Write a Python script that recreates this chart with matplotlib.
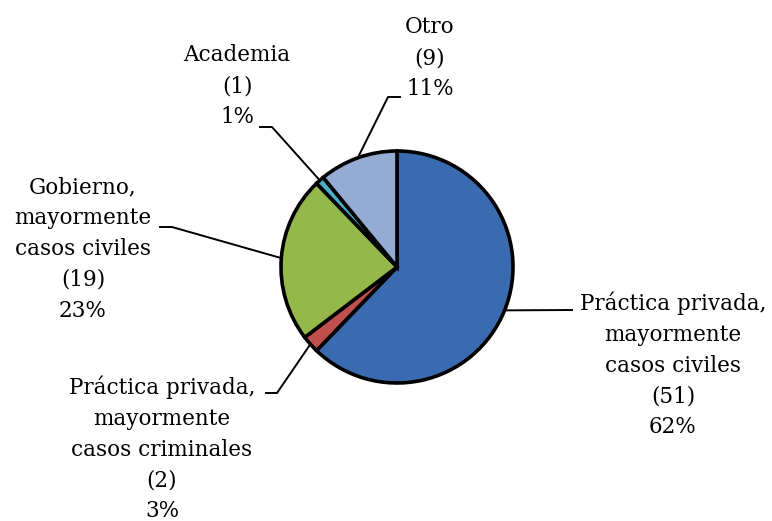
import matplotlib.pyplot as plt
import numpy as np

# data
categories = ["Práctica privada,\nmayormente\ncasos civiles",
              "Práctica privada,\nmayormente\ncasos criminales",
              "Gobierno,\nmayormente\ncasos civiles",
              "Academia",
              "Otro"]
counts = [51, 2, 19, 1, 9]
percents = [62, 3, 23, 1, 11]
colors = ["#3A6BB0", "#C0504D", "#94B94A", "#4BACC6", "#94ACD4"]

W, H = 772, 521
cx, cy, r = 397, 267, 116

# label layout, pixel coords with origin top-left
text_pos = [(673, 365), (162, 449), (83, 249), (237, 86), (430, 58)]
elbows = [[(572, 310)],
          [(266, 393), (277, 393)],
          [(160, 227), (172, 227)],
          [(260, 127), (272, 127)],
          [(400, 97), (388, 97)]]

plt.rcParams['font.family'] = ['DejaVu Serif']

fig = plt.figure(figsize=(W / 100, H / 100), dpi=100)
ax = fig.add_axes([0, 0, 1, 1])
ax.set_xlim(0, W)
ax.set_ylim(0, H)
ax.set_aspect('equal')
ax.axis('off')

wedges, _ = ax.pie(counts, colors=colors, startangle=90, counterclock=False,
                   center=(cx, H - cy), radius=r,
                   wedgeprops=dict(edgecolor='black', linewidth=2.6))
ax.set_xlim(0, W)
ax.set_ylim(0, H)

for i, w in enumerate(wedges):
    ang = np.deg2rad((w.theta1 + w.theta2) / 2)
    ax_pt = (cx + r * np.cos(ang), H - cy + r * np.sin(ang))
    pts = [(x, H - y) for x, y in elbows[i]] + [ax_pt]
    ax.plot([p[0] for p in pts], [p[1] for p in pts], color='black', lw=1.4)
    tx, ty = text_pos[i]
    label = f"{categories[i]}\n({counts[i]})\n{percents[i]}%"
    ax.text(tx, H - ty, label, ha='center', va='center', multialignment='center',
            fontsize=15.5, linespacing=1.52, color='black')

fig.savefig("out.png", dpi=100)
